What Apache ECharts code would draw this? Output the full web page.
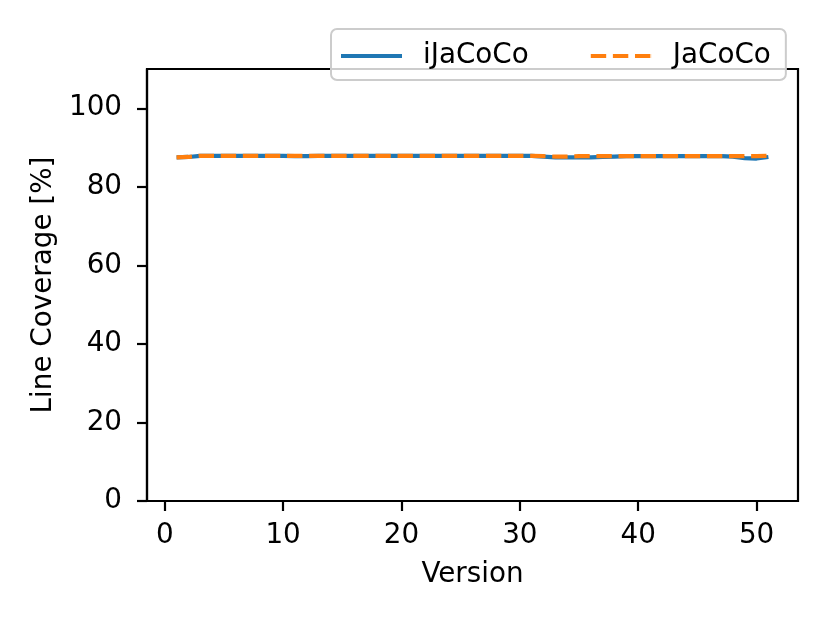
<!DOCTYPE html>
<html>
<head>
<meta charset="utf-8">
<script src="https://cdn.jsdelivr.net/npm/echarts@6/dist/echarts.min.js"></script>
<style>html,body{margin:0;padding:0;background:#fff}#c{width:830px;height:623px}</style>
</head>
<body>
<div id="c"></div>
<script>
const versions = [1,2,3,4,5,6,7,8,9,10,11,12,13,14,15,16,17,18,19,20,21,22,23,24,25,26,27,28,29,30,31,32,33,34,35,36,37,38,39,40,41,42,43,44,45,46,47,48,49,50,51];
const iJaCoCo = [87.5,87.6,87.9,87.9,87.9,87.9,87.9,87.9,87.9,87.9,87.8,87.8,87.9,87.9,87.9,87.9,87.9,87.9,87.9,87.9,87.9,87.9,87.9,87.9,87.9,87.9,87.9,87.9,87.9,87.9,87.9,87.7,87.5,87.5,87.5,87.5,87.6,87.7,87.8,87.8,87.8,87.8,87.8,87.8,87.8,87.8,87.8,87.7,87.3,87.2,87.6];
const JaCoCo  = [87.5,87.6,87.9,87.9,87.9,87.9,87.9,87.9,87.9,87.9,87.9,87.9,87.9,87.9,87.9,87.9,87.9,87.9,87.9,87.9,87.9,87.9,87.9,87.9,87.9,87.9,87.9,87.9,87.9,87.9,87.9,87.8,87.7,87.7,87.8,87.8,87.8,87.8,87.8,87.8,87.8,87.8,87.8,87.8,87.8,87.8,87.8,87.8,87.8,87.8,87.9];
const xTicks = [0,10,20,30,40,50];
const yTicks = [0,20,40,60,80,100];

const FONT = 'DejaVu Sans';
const FS = 27.8;
const chart = echarts.init(document.getElementById('c'), null, {renderer:'canvas'});
const pair = (xs, ys) => xs.map((x,i)=>[x, ys[i]]);
const solidIcon = 'path://M0,0H61V4.2H0Z';
const dashIcon = 'path://M0,0H15.4V4.2H0Z M22.1,0H37.5V4.2H22.1Z M44.2,0H59.6V4.2H44.2Z M60.9,0H61V4.2H60.9Z';
chart.setOption({
  animation:false,
  backgroundColor:'#fff',
  textStyle:{fontFamily:FONT},
  grid:{left:147, right:32, top:69, bottom:122, show:true, borderColor:'#000', borderWidth:2.2, containLabel:false},
  legend:{
    left:331, top:29, orient:'horizontal',
    padding:[13,15,10,10],
    itemWidth:61, itemHeight:4.2, itemGap:62,
    backgroundColor:'rgba(255,255,255,0.8)', borderColor:'#cccccc', borderWidth:2, borderRadius:6,
    textStyle:{fontFamily:FONT, fontSize:FS, color:'#000', padding:[0,0,0,16]},
    data:[{name:'iJaCoCo', icon:solidIcon},{name:'JaCoCo', icon:dashIcon}], z:20
  },
  xAxis:{
    type:'value', min:-1.5, max:53.5,
    name:'Version', nameLocation:'middle', nameGap:60,
    nameTextStyle:{fontFamily:FONT, fontSize:FS, color:'#000'},
    axisLine:{show:true, onZero:false, lineStyle:{color:'#000', width:2.2}},
    axisTick:{show:true, length:10, lineStyle:{color:'#000', width:2.2}, customValues:xTicks},
    axisLabel:{fontFamily:FONT, fontSize:FS, color:'#000', margin:21, customValues:xTicks},
    splitLine:{show:false}
  },
  yAxis:{
    type:'value', min:0, max:110,
    name:'Line Coverage [%]', nameLocation:'middle', nameGap:85,
    nameTextStyle:{fontFamily:FONT, fontSize:FS, color:'#000'},
    axisLine:{show:true, onZero:false, lineStyle:{color:'#000', width:2.2}},
    axisTick:{show:true, length:10, lineStyle:{color:'#000', width:2.2}, customValues:yTicks},
    axisLabel:{fontFamily:FONT, fontSize:FS, color:'#000', margin:25, customValues:yTicks},
    splitLine:{show:false}
  },
  series:[
    {name:'iJaCoCo', type:'line', data:pair(versions,iJaCoCo), symbol:'none', showSymbol:false,
     color:'#1f77b4', lineStyle:{color:'#1f77b4', width:4.2, cap:'butt'}, z:2},
    {name:'JaCoCo', type:'line', data:pair(versions,JaCoCo), symbol:'none', showSymbol:false,
     color:'#ff7f0e', lineStyle:{color:'#ff7f0e', width:4.2, type:[15.4,6.7], cap:'butt'}, z:3}
  ]
});
</script>
</body>
</html>
